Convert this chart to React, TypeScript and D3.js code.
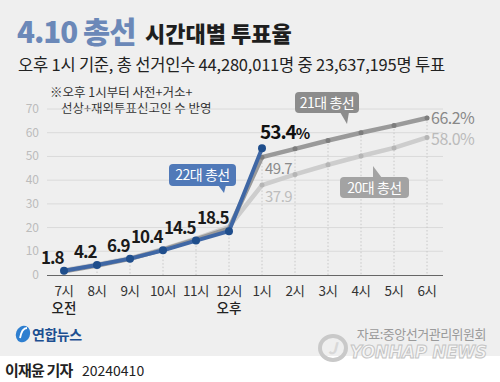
import React from 'react';
import * as d3 from 'd3';

const hours = ['7시', '8시', '9시', '10시', '11시', '12시', '1시', '2시', '3시', '4시', '5시', '6시'];
const subLabels = ['오전', '', '', '', '', '오후', '', '', '', '', '', ''];
const yTicks = [0, 10, 20, 30, 40, 50, 60, 70];
const v22 = [1.8, 4.2, 6.9, 10.4, 14.5, 18.5, 53.4];
const v21 = [1.6, 4.0, 6.8, 10.7, 15.0, 19.6, 49.7, 53.2, 56.7, 60.0, 63.0, 66.2];
const v20 = [2.0, 4.4, 7.1, 10.9, 15.3, 20.3, 37.9, 42.4, 46.5, 50.2, 53.6, 58.0];

const FONT = "'Noto Sans CJK KR', 'Noto Sans', sans-serif";

export default function App() {
  const W = 500, H = 382;
  const x = d3.scaleLinear().domain([0, 11]).range([64, 427]);
  const y = d3.scaleLinear().domain([0, 70]).range([275, 109]);
  const line = d3.line<number>().x((_, i) => x(i)).y((d) => y(d));
  const maxAt = hours.map((_, i) => Math.max(v22[i] ?? 0, v21[i] ?? 0, v20[i] ?? 0));

  return (
    <svg width={W} height={H} style={{ position: 'absolute', left: 0, top: 0, fontFamily: FONT }}>
      <rect x={0} y={0} width={W} height={356} fill="#efefef" />
      <rect x={0} y={356} width={W} height={26} fill="#ffffff" />

      {/* Title */}
      <text x={17} y={43} fontSize={29.5} fontWeight={900} fill="#6b88b8" letterSpacing={-1}>4.10 총선</text>
      <text x={145} y={42} fontSize={22} fontWeight={900} fill="#1e1e1e">시간대별 투표율</text>
      <text x={18} y={71} fontSize={16.5} fill="#222" letterSpacing={-0.2}>오후 1시 기준, 총 선거인수 44,280,011명 중 23,637,195명 투표</text>

      {/* note */}
      <text x={50} y={97} fontSize={12.5} fill="#333">※오후 1시부터 사전+거소+</text>
      <text x={61} y={113} fontSize={12.5} fill="#333">선상+재외투표신고인 수 반영</text>

      {/* grid */}
      {yTicks.filter((t) => t > 0).map((t) => (
        <line key={t} x1={47} x2={443} y1={y(t)} y2={y(t)} stroke="#dadada" strokeWidth={1} />
      ))}
      {yTicks.map((t) => (
        <text key={'yl' + t} x={39} y={y(t) + 4} fontSize={12} fill="#bcbcbc" textAnchor="end">{t}</text>
      ))}
      {hours.map((h, i) => (
        <line key={'vg' + i} x1={x(i)} x2={x(i)} y1={y(maxAt[i])} y2={y(0)} stroke="#c8c8c8" strokeWidth={1} strokeDasharray="1.5,2" />
      ))}
      <line x1={47} x2={443} y1={y(0) + 0.5} y2={y(0) + 0.5} stroke="#666" strokeWidth={1.2} />

      {/* x labels */}
      {hours.map((h, i) => (
        <text key={'xl' + i} x={x(i)} y={296} fontSize={13.5} fill="#333" textAnchor="middle" letterSpacing={-0.5}>{h}</text>
      ))}
      {subLabels.map((s, i) => s ? (
        <text key={'sl' + i} x={x(i)} y={313} fontSize={13.5} fill="#222" textAnchor="middle" fontWeight={500}>{s}</text>
      ) : null)}

      {/* lines */}
      <path d={line(v20) || ''} fill="none" stroke="#cdcdcd" strokeWidth={4.5} strokeLinejoin="round" strokeLinecap="round" />
      {v20.map((v, i) => i >= 6 ? <circle key={'p20' + i} cx={x(i)} cy={y(v)} r={2.5} fill="#b5b5b5" /> : null)}
      <path d={line(v21) || ''} fill="none" stroke="#9a9a9a" strokeWidth={4.5} strokeLinejoin="round" strokeLinecap="round" />
      {v21.map((v, i) => i >= 6 ? <circle key={'p21' + i} cx={x(i)} cy={y(v)} r={2.5} fill="#7d7d7d" /> : null)}
      <path d={line(v22) || ''} fill="none" stroke="#3f67a5" strokeWidth={4} strokeLinejoin="round" strokeLinecap="round" />
      {v22.map((v, i) => <circle key={'p22' + i} cx={x(i)} cy={y(v)} r={4} fill="#1f4e8c" />)}

      {/* labels 22 */}
      {v22.slice(0, 6).map((v, i) => (
        <text key={'l22' + i} x={x(i) - 0.5} y={y(v) - 7} fontSize={17} fontWeight={700} fill="#1a1a1a" textAnchor="end" letterSpacing={-1}>{v.toFixed(1)}</text>
      ))}
      <text x={x(6) - 2} y={y(v22[6]) - 9} fontSize={19} fontWeight={700} fill="#111" letterSpacing={-1}>
        {v22[6].toFixed(1)}<tspan fontSize={15}>%</tspan>
      </text>
      <text x={x(6) + 3} y={y(v21[6]) + 17} fontSize={15} fill="#8a8a8a" letterSpacing={-0.5}>{v21[6].toFixed(1)}</text>
      <text x={x(6) + 3} y={y(v20[6]) + 17} fontSize={15} fill="#bdbdbd" letterSpacing={-0.5}>{v20[6].toFixed(1)}</text>
      <text x={x(11) + 4} y={y(v21[11]) + 5.5} fontSize={16} fill="#888" letterSpacing={-0.5}>{v21[11].toFixed(1)}%</text>
      <text x={x(11) + 4} y={y(v20[11]) + 7.5} fontSize={16} fill="#bbb" letterSpacing={-0.5}>{v20[11].toFixed(1)}%</text>

      {/* callouts */}
      <g>
        <rect x={169} y={164} width={67} height={22} rx={4} fill="#5079b8" />
        <path d="M218,185 L226,185 L224,193 Z" fill="#5079b8" />
        <text x={202.5} y={180} fontSize={14} fill="#fff" textAnchor="middle" letterSpacing={-0.5}>22대 총선</text>
      </g>
      <g>
        <rect x={295} y={92} width={64} height={21} rx={4} fill="#8c8c8c" />
        <path d="M340,112 L349,112 L347,124 Z" fill="#8c8c8c" />
        <text x={327} y={107.5} fontSize={14} fill="#fff" textAnchor="middle" letterSpacing={-0.5}>21대 총선</text>
      </g>
      <g>
        <rect x={340} y={177} width={69} height={21} rx={4} fill="#a3a3a3" />
        <path d="M373,166 L382,178 L373,178 Z" fill="#a3a3a3" />
        <text x={374.5} y={192.5} fontSize={14} fill="#fff" textAnchor="middle" letterSpacing={-0.5}>20대 총선</text>
      </g>

      {/* logo */}
      <g>
        <ellipse cx={23} cy={334} rx={7} ry={8.5} fill="#2e7fd0" transform="rotate(20,23,334)" />
        <path d="M20,338 Q22,328 27,328" stroke="#fff" strokeWidth={1.8} fill="none" />
        <text x={32} y={340} fontSize={14} fontWeight={700} fill="#1d4f91" letterSpacing={-0.5}>연합뉴스</text>
      </g>
      <text x={486} y={339} fontSize={13} fill="#9a9a9a" textAnchor="end" letterSpacing={-0.5}>자료:중앙선거관리위원회</text>
      <g>
        <ellipse cx={333} cy={348} rx={13} ry={12} fill="none" stroke="#c9c9c9" strokeWidth={4} />
        <text x={328} y={354} fontSize={16} fontStyle="italic" fontWeight={700} fill="#d8d8d8">J</text>
        <text x={350} y={358} fontSize={17} fontWeight={900} fontStyle="italic" fill="#f6f6f6" stroke="#c4c4c4" strokeWidth={1} fontFamily="'DejaVu Sans', sans-serif" textLength={137} lengthAdjust="spacingAndGlyphs">YONHAP NEWS</text>
      </g>

      {/* byline */}
      <text x={5} y={376} fontSize={15} fontWeight={700} fill="#222" letterSpacing={-0.8}>이재윤 기자</text>
      <text x={82} y={376} fontSize={14} fill="#222">20240410</text>
    </svg>
  );
}
